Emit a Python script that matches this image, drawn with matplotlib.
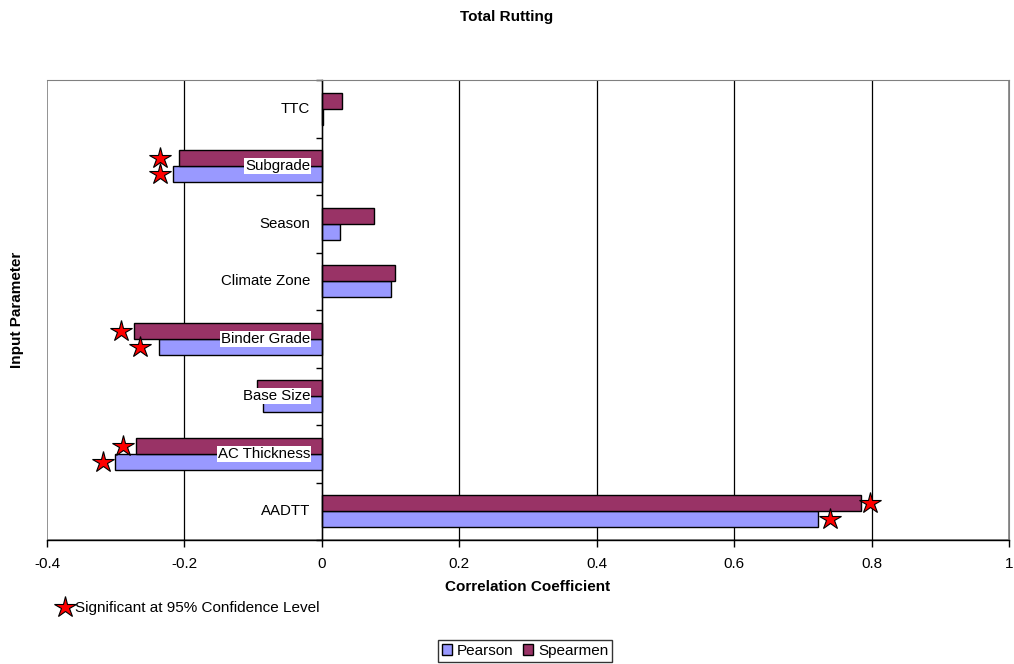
import numpy as np
import matplotlib
matplotlib.use('Agg')
import matplotlib.pyplot as plt
from matplotlib.lines import Line2D
from matplotlib.patches import Patch, Rectangle

plt.rcParams['font.family'] = ['Liberation Sans', 'DejaVu Sans']

# Correlation of each input parameter with total rutting
params = ['TTC', 'Subgrade', 'Season', 'Climate Zone', 'Binder Grade',
          'Base Size', 'AC Thickness', 'AADTT']
pearson = [0.002, -0.216, 0.027, 0.100, -0.237, -0.086, -0.301, 0.722]
spearman = [0.029, -0.208, 0.076, 0.107, -0.274, -0.095, -0.271, 0.784]

# Star markers for significant coefficients (nan = not significant)
pearson_sig = [np.nan, -0.236, np.nan, np.nan, -0.264, np.nan, -0.319, 0.739]
spearman_sig = [np.nan, -0.236, np.nan, np.nan, -0.293, np.nan, -0.290, 0.797]

x_ticks = [-0.4, -0.2, 0, 0.2, 0.4, 0.6, 0.8, 1]
x_ticklabels = ['-0.4', '-0.2', '0', '0.2', '0.4', '0.6', '0.8', '1']

pearson_color = '#9999FF'
spearman_color = '#993366'

fig = plt.figure(figsize=(10.14, 6.64), dpi=100)
ax = fig.add_axes([47 / 1014, 1 - 540 / 664, 962 / 1014, 460 / 664])

y = np.arange(len(params))
h = 0.28
ax.barh(y + h / 2, pearson, height=h, color=pearson_color,
        edgecolor='black', linewidth=1, zorder=2)
ax.barh(y - h / 2, spearman, height=h, color=spearman_color,
        edgecolor='black', linewidth=1, zorder=2)

star = dict(marker='*', markersize=16, markerfacecolor='red',
            markeredgecolor='black', markeredgewidth=0.8, linestyle='none',
            zorder=4)
ax.plot(pearson_sig, y + h / 2, **star)
ax.plot(spearman_sig, y - h / 2, **star)

ax.set_xlim(-0.4, 1)
ax.set_ylim(len(params) - 0.5, -0.5)
ax.set_xticks(x_ticks)
ax.set_xticklabels(x_ticklabels, fontsize=11)
ax.tick_params(axis='x', direction='out', length=5, width=1, pad=7)

# vertical gridlines, end values are covered by the frame
for xv in x_ticks[1:-1]:
    ax.axvline(xv, color='black', linewidth=0.9, zorder=1)

# category axis crosses at zero
ax.spines['left'].set_position(('data', 0))
ax.spines['left'].set_linewidth(1)
ax.spines['bottom'].set_linewidth(1)
for s in ['top', 'right']:
    ax.spines[s].set_color('#808080')
ax.set_yticks(np.arange(len(params) + 1) - 0.5)
ax.set_yticklabels([])
ax.tick_params(axis='y', direction='out', length=4, width=1)
ax.add_patch(Rectangle((0, 0), 1, 1, transform=ax.transAxes, fill=False,
                       edgecolor='#808080', linewidth=1.2, zorder=0.5))

# category names sit just left of the zero line, on top of the bars
for yi, name in zip(y, params):
    ax.annotate(name, xy=(0, yi), xytext=(-8.5, 0), textcoords='offset points',
                ha='right', va='center', fontsize=10.8, zorder=5,
                bbox=dict(facecolor='white', edgecolor='none', pad=0.6))

fig.text(0.5, 1 - 17 / 664, 'Total Rutting', ha='center', va='center',
         fontsize=11, fontweight='bold')
fig.text(528 / 1014, 1 - 587 / 664, 'Correlation Coefficient', ha='center',
         va='center', fontsize=11, fontweight='bold')
fig.text(17 / 1014, 1 - 310 / 664, 'Input Parameter', ha='center',
         va='center', rotation=90, fontsize=11, fontweight='bold')

# significance note
star_handle = Line2D([], [], **star)
fig.legend(handles=[star_handle], labels=['Significant at 95% Confidence Level'],
           loc='center left', bbox_to_anchor=(57 / 1014, 1 - 608 / 664),
           frameon=False, fontsize=11, handlelength=1, handletextpad=0.15,
           borderpad=0, borderaxespad=0)

# series legend
handles = [Patch(facecolor=pearson_color, edgecolor='black'),
           Patch(facecolor=spearman_color, edgecolor='black')]
fig.legend(handles=handles, labels=['Pearson', 'Spearmen'], ncol=2,
           loc='center', bbox_to_anchor=(525 / 1014, 1 - 651 / 664),
           fontsize=11, frameon=True, fancybox=False, edgecolor='black',
           handlelength=0.7, handleheight=0.7, handletextpad=0.3,
           columnspacing=0.6, borderpad=0.25, borderaxespad=0)

fig.savefig('out.png', dpi=100)
